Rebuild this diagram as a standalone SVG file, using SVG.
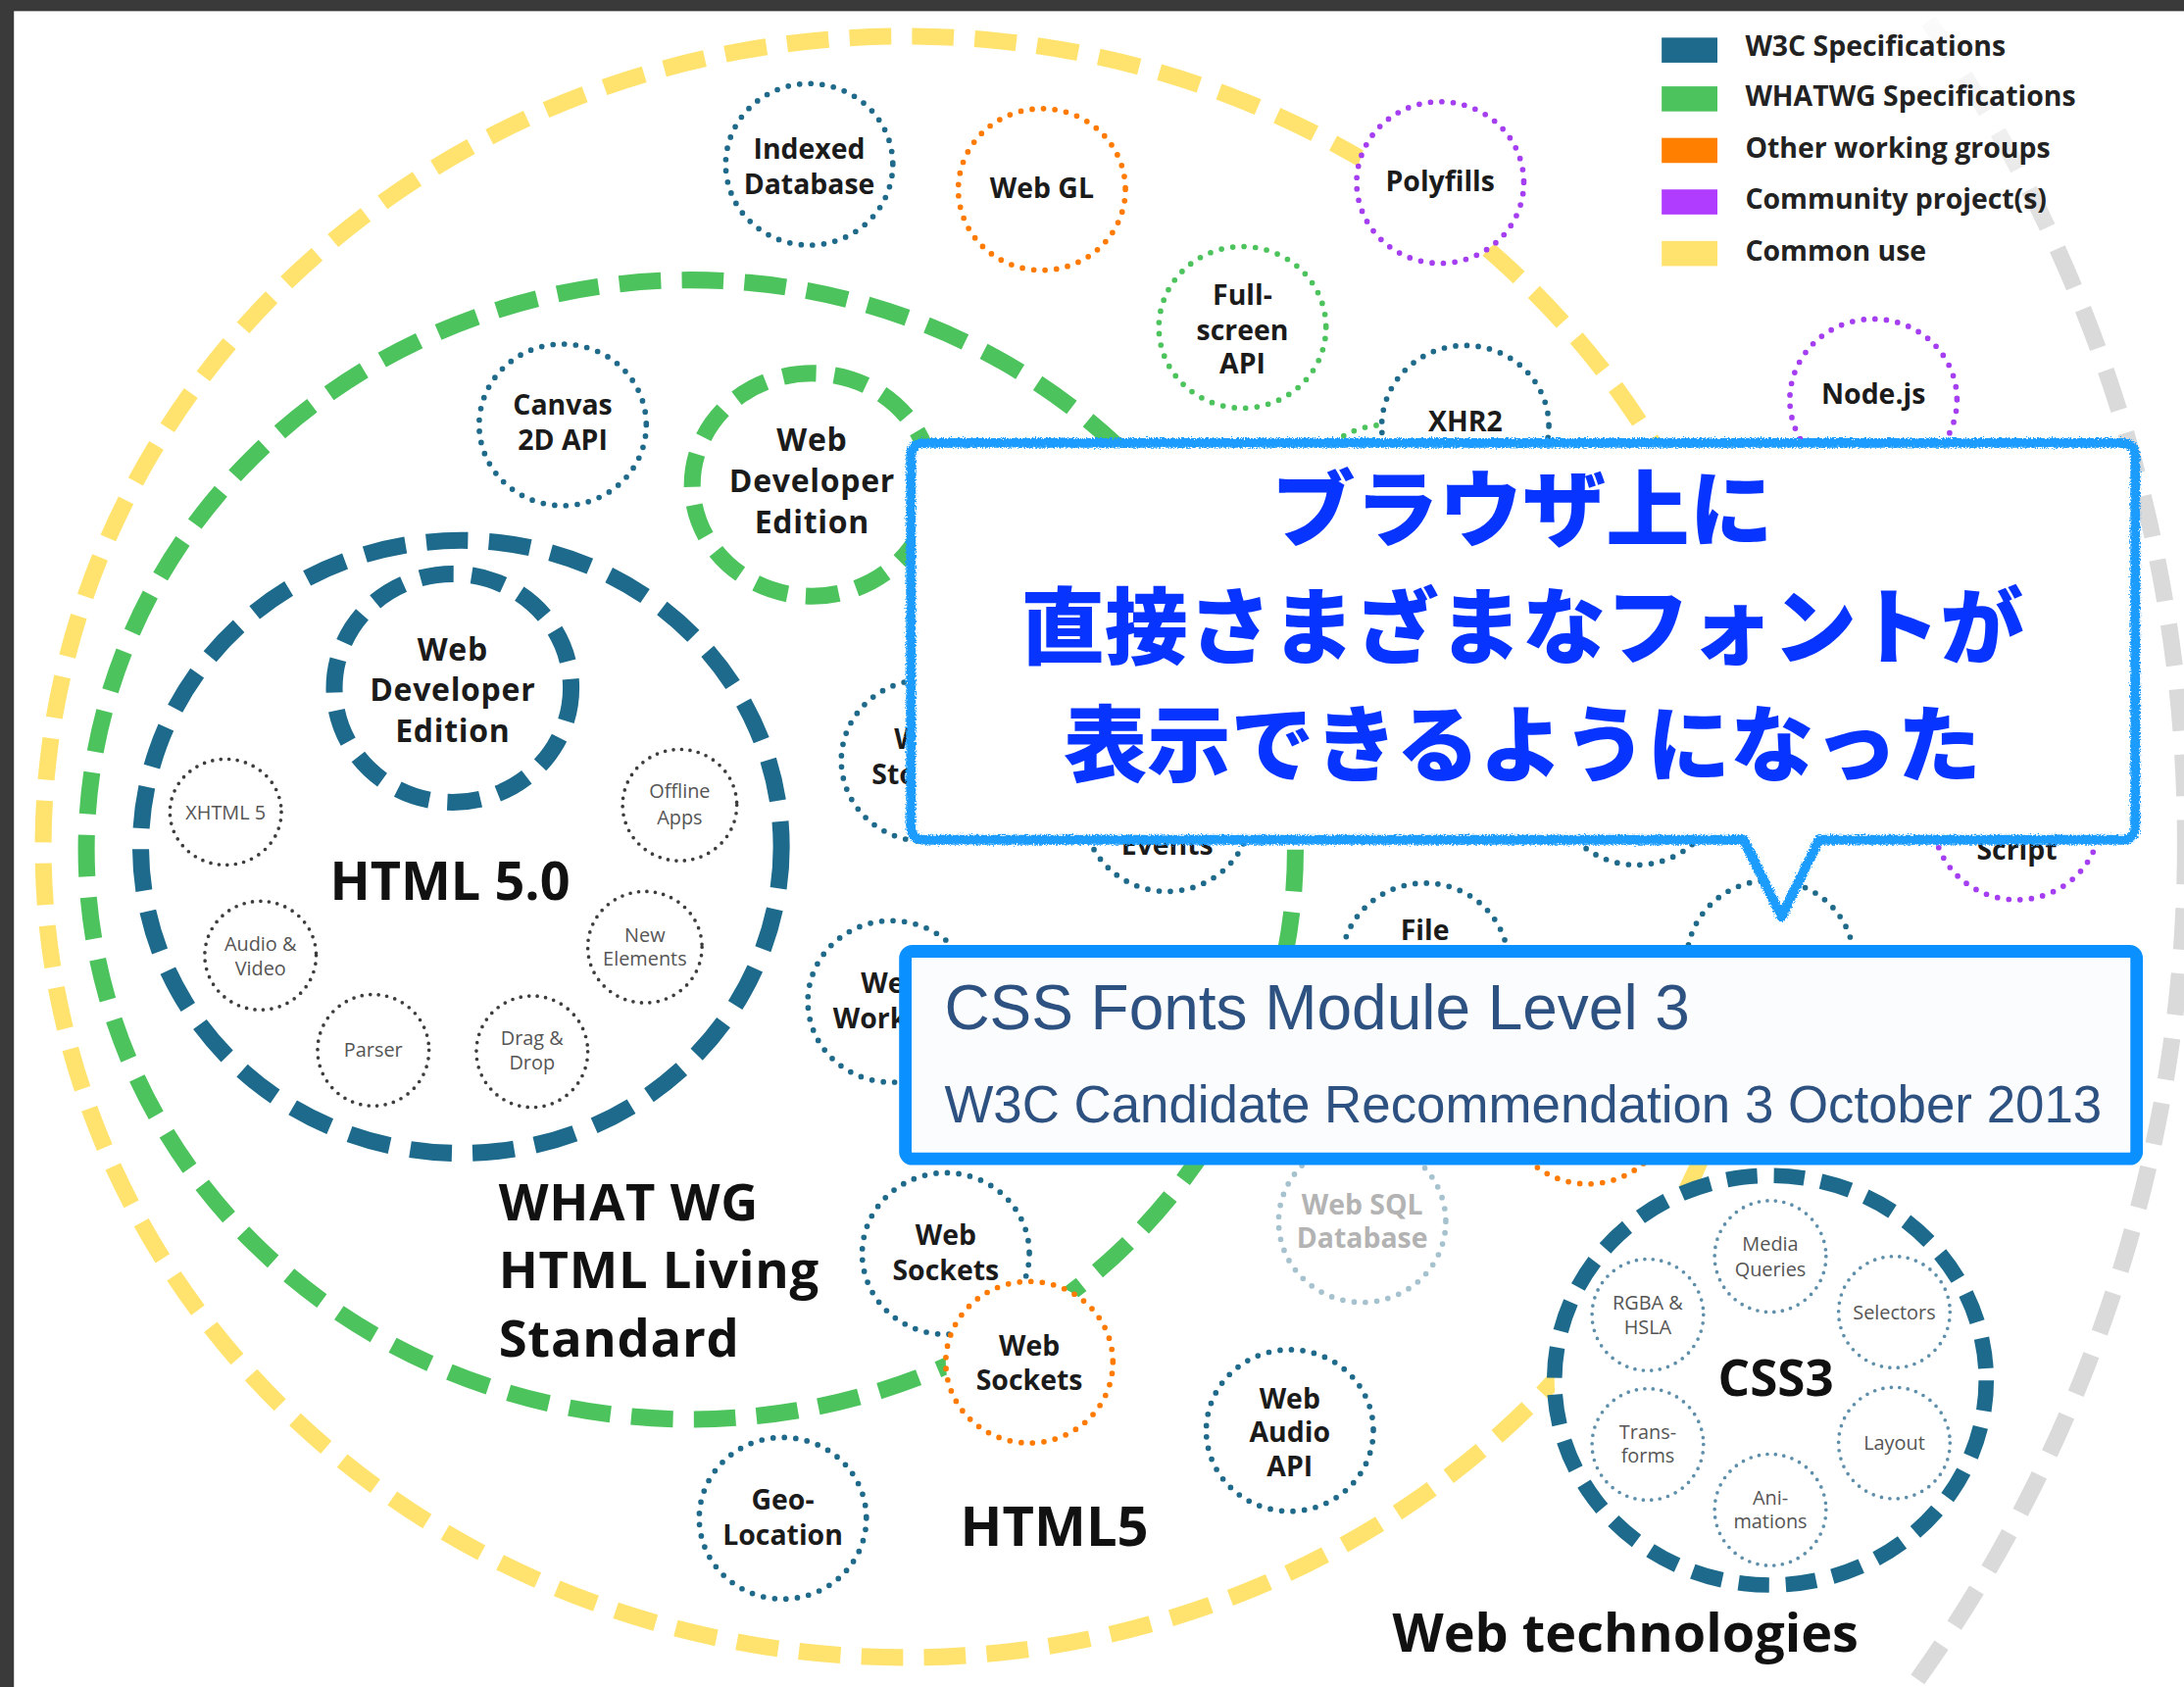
<svg xmlns="http://www.w3.org/2000/svg" width="2228" height="1721" viewBox="0 0 2228 1721">
<defs>
<style>
.ring{fill:none;stroke-width:12}
.ry{stroke:#ffe36e;stroke-dasharray:30 15}
.rg{stroke:#4cc35c;stroke-dasharray:30 15}
.rb{stroke:#1d6a8c;stroke-dasharray:30 15}
.rgr{stroke:#dadada;stroke-dasharray:30 17}
.thick{fill:#fff;stroke-width:12;stroke-dasharray:24 13}
.dot{fill:#fff;stroke-width:4;stroke-linecap:round;stroke-dasharray:0 8.2}
.cb{stroke:#1f6a8a}.co{stroke:#ff7a00}.cp{stroke:#a43ef0}.cg{stroke:#4cc35c}.cl{stroke:#a6c2cf}
.sm{fill:#fff;stroke:#3d3d3d;stroke-width:2.6;stroke-linecap:round;stroke-dasharray:0 6}
.smb{fill:#fff;stroke:#5d8fab;stroke-width:2.6;stroke-linecap:round;stroke-dasharray:0 6}
text{font-family:"Open Sans","DejaVu Sans",sans-serif}
.t{font-weight:700;font-size:20px;fill:#1b1b1b;text-anchor:middle}
.tm{font-size:22.5px;letter-spacing:0.5px}
.tl{fill:#b3b3b3}
.s{font-size:14px;fill:#555;text-anchor:middle}
.big{font-weight:700;font-size:38px;fill:#111}
.big3{font-size:37px;letter-spacing:0.5px}
.leg{font-weight:700;font-size:20px;fill:#222}
.jp{font-family:"Noto Sans CJK JP","Noto Sans CJK SC",sans-serif;font-weight:900;font-size:60px;fill:#0834ff;text-anchor:middle}
.css{font-family:"Liberation Sans",Arial,sans-serif;fill:#2d5180}
</style>
<linearGradient id="fade" x1="0" y1="0" x2="0" y2="1">
<stop offset="0" stop-color="#fff" stop-opacity="0.92"/>
<stop offset="0.55" stop-color="#fff" stop-opacity="0.55"/>
<stop offset="1" stop-color="#fff" stop-opacity="0"/>
</linearGradient>
<filter id="rough" x="-5%" y="-10%" width="110%" height="130%">
<feTurbulence type="fractalNoise" baseFrequency="0.9" numOctaves="2" result="n"/>
<feDisplacementMap in="SourceGraphic" in2="n" scale="4" xChannelSelector="R" yChannelSelector="G"/>
</filter>
</defs>
<rect width="2228" height="1721" fill="#fff"/>
<g transform="scale(1.42092)">

<g id="rings">
<circle class="ring rgr" cx="534" cy="605" r="1035"/>
<rect x="1180" y="8" width="340" height="175" fill="url(#fade)"/>
<ellipse class="ring ry" cx="650" cy="608" rx="619" ry="582"/>
<ellipse class="ring rg" cx="496" cy="610" rx="434" ry="409"/>
<ellipse class="ring rb" cx="331" cy="608" rx="230" ry="220"/>
</g>

<g id="frame" fill="#3a3a3a"><rect x="0" y="0" width="1568" height="8"/><rect x="0" y="0" width="10" height="1212"/></g>

<g id="indexed-db"><ellipse class="dot cb" cx="581" cy="118" rx="60" ry="58"/><text class="t" x="581" y="114">Indexed<tspan x="581" dy="25">Database</tspan></text></g>
<g id="web-gl"><ellipse class="dot co" cx="748" cy="136" rx="60" ry="58"/><text class="t" x="748" y="142">Web GL</text></g>
<g id="polyfills"><ellipse class="dot cp" cx="1034" cy="131" rx="60" ry="58"/><text class="t" x="1034" y="137">Polyfills</text></g>
<g id="fullscreen"><ellipse class="dot cg" cx="892" cy="235" rx="60" ry="58"/><text class="t" x="892" y="219">Full-<tspan x="892" dy="25">screen</tspan><tspan x="892" dy="24">API</tspan></text></g>
<g id="green-hidden"><ellipse class="dot cg" cx="995" cy="363" rx="60" ry="58"/></g>
<g id="xhr2"><ellipse class="dot cb" cx="1052" cy="306" rx="60" ry="58"/><text class="t" x="1052" y="310">XHR2</text></g>
<g id="nodejs"><ellipse class="dot cp" cx="1345" cy="287" rx="60" ry="58"/><text class="t" x="1345" y="290">Node.js</text></g>
<g id="canvas"><ellipse class="dot cb" cx="404" cy="305" rx="60" ry="58"/><text class="t" x="404" y="298">Canvas<tspan x="404" dy="25">2D API</tspan></text></g>
<g id="webdev-whatwg"><ellipse class="thick" style="stroke:#4cc35c" cx="583" cy="348" rx="86" ry="80"/><text class="t tm" x="583" y="324">Web<tspan x="583" dy="29.5">Developer</tspan><tspan x="583" dy="29.5">Edition</tspan></text></g>
<g id="web-storage"><ellipse class="dot cb" cx="664" cy="546" rx="60" ry="58"/><text class="t" x="664" y="538">Web<tspan x="664" dy="25">Storage</tspan></text></g>
<g id="events"><ellipse class="dot cb" cx="838" cy="582" rx="60" ry="58"/><text class="t" x="838" y="614">Events</text></g>
<g id="hidden-a"><ellipse class="dot cb" cx="1175" cy="563" rx="60" ry="58"/></g>
<g id="script"><ellipse class="dot cp" cx="1448" cy="588" rx="60" ry="58"/><text class="t" x="1448" y="617">Script</text></g>
<g id="file"><ellipse class="dot cb" cx="1023" cy="692" rx="60" ry="58"/><text class="t" x="1023" y="675">File</text></g>
<g id="hidden-b"><ellipse class="dot cb" cx="1271" cy="690" rx="60" ry="58"/></g>
<g id="hidden-c"><ellipse class="dot co" cx="1140" cy="792" rx="60" ry="58"/></g>
<g id="web-workers"><ellipse class="dot cb" cx="640" cy="719" rx="60" ry="58"/><text class="t" x="640" y="713">Web<tspan x="640" dy="25">Workers</tspan></text></g>
<g id="web-sql"><ellipse class="dot cl" cx="978" cy="877" rx="60" ry="58"/><text class="t tl" x="978" y="872">Web SQL<tspan x="978" dy="24">Database</tspan></text></g>
<g id="web-sockets-w3c"><ellipse class="dot cb" cx="679" cy="900" rx="60" ry="58"/><text class="t" x="679" y="894">Web<tspan x="679" dy="25">Sockets</tspan></text></g>
<g id="web-sockets-other"><ellipse class="dot co" cx="739" cy="978" rx="60" ry="58"/><text class="t" x="739" y="973">Web<tspan x="739" dy="25">Sockets</tspan></text></g>
<g id="web-audio"><ellipse class="dot cb" cx="926" cy="1027" rx="60" ry="58"/><text class="t" x="926" y="1011">Web<tspan x="926" dy="24">Audio</tspan><tspan x="926" dy="25">API</tspan></text></g>
<g id="geo"><ellipse class="dot cb" cx="562" cy="1090" rx="60" ry="58"/><text class="t" x="562" y="1084">Geo-<tspan x="562" dy="25">Location</tspan></text></g>

<g id="html50">
<ellipse class="thick" style="stroke:#1d6a8c" cx="325" cy="494" rx="85" ry="82"/>
<text class="t tm" x="325" y="474">Web<tspan x="325" dy="29.5">Developer</tspan><tspan x="325" dy="29.5">Edition</tspan></text>
<ellipse class="sm" cx="162" cy="583" rx="40" ry="38"/><text class="s" x="162" y="588">XHTML 5</text>
<ellipse class="sm" cx="488" cy="578" rx="41" ry="40"/><text class="s" x="488" y="573">Offline<tspan x="488" dy="19">Apps</tspan></text>
<ellipse class="sm" cx="187" cy="686" rx="40" ry="39"/><text class="s" x="187" y="683">Audio &amp;<tspan x="187" dy="17">Video</tspan></text>
<ellipse class="sm" cx="463" cy="680" rx="41" ry="40"/><text class="s" x="463" y="676">New<tspan x="463" dy="17">Elements</tspan></text>
<ellipse class="sm" cx="268" cy="754" rx="40" ry="40"/><text class="s" x="268" y="759">Parser</text>
<ellipse class="sm" cx="382" cy="755" rx="40" ry="40"/><text class="s" x="382" y="750">Drag &amp;<tspan x="382" dy="18">Drop</tspan></text>
<text class="big" x="323" y="646" text-anchor="middle">HTML 5.0</text>
</g>

<g id="css3">
<ellipse class="thick" style="stroke:#1d6a8c;stroke-width:11;stroke-dasharray:22 12" cx="1271" cy="991" rx="155" ry="147"/>
<ellipse class="smb" cx="1271" cy="902" rx="40" ry="40"/><text class="s" x="1271" y="898">Media<tspan x="1271" dy="18">Queries</tspan></text>
<ellipse class="smb" cx="1183" cy="944" rx="40" ry="40"/><text class="s" x="1183" y="940">RGBA &amp;<tspan x="1183" dy="18">HSLA</tspan></text>
<ellipse class="smb" cx="1360" cy="942" rx="40" ry="40"/><text class="s" x="1360" y="947">Selectors</text>
<ellipse class="smb" cx="1183" cy="1037" rx="40" ry="40"/><text class="s" x="1183" y="1033">Trans-<tspan x="1183" dy="17">forms</tspan></text>
<ellipse class="smb" cx="1360" cy="1036" rx="40" ry="40"/><text class="s" x="1360" y="1041">Layout</text>
<ellipse class="smb" cx="1271" cy="1084" rx="40" ry="40"/><text class="s" x="1271" y="1080">Ani-<tspan x="1271" dy="17">mations</tspan></text>
<text class="big" x="1275" y="1002" text-anchor="middle" style="font-size:36px">CSS3</text>
</g>

<g id="labels">
<text class="big big3" x="358" y="876">WHAT WG<tspan x="358" dy="49">HTML Living</tspan><tspan x="358" dy="49">Standard</tspan></text>
<text class="big" x="757" y="1110" text-anchor="middle" style="font-size:39.5px">HTML5</text>
<text class="big" x="1167" y="1186" text-anchor="middle">Web technologies</text>
</g>

<g id="legend">
<rect x="1193" y="27" width="40" height="18" fill="#1d6a8c"/><text class="leg" x="1253" y="40">W3C Specifications</text>
<rect x="1193" y="62" width="40" height="18" fill="#4cc35c"/><text class="leg" x="1253" y="76">WHATWG Specifications</text>
<rect x="1193" y="99" width="40" height="18" fill="#ff8000"/><text class="leg" x="1253" y="113">Other working groups</text>
<rect x="1193" y="136" width="40" height="18" fill="#b03cff"/><text class="leg" x="1253" y="150">Community project(s)</text>
<rect x="1193" y="173" width="40" height="18" fill="#ffe36e"/><text class="leg" x="1253" y="187">Common use</text>
</g>

<g id="callout">
<path d="M664 318H1523Q1533 318 1533 328V593Q1533 603 1523 603H1306L1279 658L1252 603H664Q654 603 654 593V328Q654 318 664 318Z" fill="#fff"/>
<path d="M664 318H1523Q1533 318 1533 328V593Q1533 603 1523 603H1306L1279 658L1252 603H664Q654 603 654 593V328Q654 318 664 318Z" fill="none" stroke="#1a9cff" stroke-width="7" stroke-linejoin="round" filter="url(#rough)"/>
<text class="jp" x="1093" y="388">ブラウザ上に<tspan x="1093" dy="84">直接さまざまなフォントが</tspan><tspan x="1093" dy="85">表示できるようになった</tspan></text>
</g>

<g id="css-fonts-box">
<rect x="650" y="683" width="884" height="149" rx="5" fill="#fbfcfd" stroke="#0a90ff" stroke-width="9"/>
<text class="css" x="678" y="739" font-size="45">CSS Fonts Module Level 3</text>
<text class="css" x="678" y="806" font-size="37.2">W3C Candidate Recommendation 3 October 2013</text>
</g>
</g>
</svg>
